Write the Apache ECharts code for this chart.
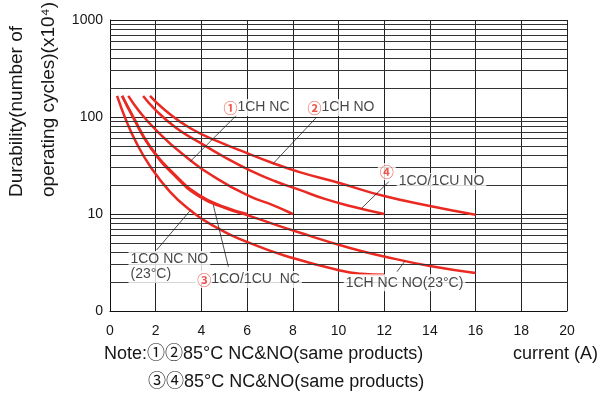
<!DOCTYPE html>
<html>
<head>
<meta charset="utf-8">
<script src="https://cdn.jsdelivr.net/npm/echarts@6/dist/echarts.min.js"></script>
<style>
html, body { margin: 0; padding: 0; background: #fff; }
#main { width: 601px; height: 396px; }
</style>
</head>
<body>
<div id="main"></div>
<script>
var chart = echarts.init(document.getElementById('main'));

// durability curves, [current (A), cycles x10^4]
var curveA = [[0.53, 165], [1, 102], [1.75, 50], [2.9, 24.6], [3.9, 15.7], [5, 11.8], [6, 10]];
var curveB = [[0.8, 165], [1.3, 113], [2.05, 72], [3.2, 41], [4.7, 23], [6.1, 15.3], [7.1, 12.4], [8, 10]];
var curveC = [[1.45, 165], [2, 118], [2.9, 77], [3.9, 55], [5, 38.7], [6.1, 28.4], [7.2, 21.9], [8.3, 17.7], [9.4, 14.3], [10.5, 12.1], [12, 10]];
var curveD = [[1.75, 165], [2.4, 118], [3.5, 77], [4.8, 55], [6, 42.5], [7, 34.4], [8.3, 27], [10, 21], [12, 15.3], [14, 12.1], [16, 9.8]];
var curveE = [[0.31, 165], [0.7, 93], [1.14, 55], [1.75, 31.3], [2.63, 16.9], [3.5, 11], [4.38, 7.9], [6.13, 5], [8, 3.52], [10.07, 2.62], [11, 2.42], [12, 2.36]];
var curveF = [[0.53, 165], [1, 100], [1.75, 49], [2.93, 23.5], [3.94, 15], [5.04, 11.5], [6.13, 9.5], [8.32, 6.4], [10.5, 4.46], [12, 3.65], [14, 2.91], [16, 2.47]];
var curves = [curveA, curveB, curveC, curveD, curveE, curveF];

var yLabels = { 1: '0', 10: '10', 100: '100', 1000: '1000' };
var minorGrid = [2, 3, 4, 5, 6, 7, 8, 9];

// annotation texts and the point they sit at
var notes = [
    { at: [4.9, 124], text: '{c|①}1CH NC' },
    { at: [8.58, 124], text: '{c|②}1CH NO' },
    { at: [11.74, 27], text: '{c|④}' },
    { at: [12.57, 21.4], text: '1CO/1CU NO' },
    { at: [0.83, 2.81], text: '1CO NC NO\n(23°C)' },
    { at: [3.75, 2.09], text: '{c|③}1CO/1CU  NC' },
    { at: [10.25, 1.93], text: '1CH NC NO(23°C)' }
];
// leader lines from label to curve
var leaders = [
    [[5.55, 105], [3.5, 34.6]],
    [[9.05, 100], [7.15, 33.3]],
    [[12.2, 21.5], [11.0, 11.4]],
    [[2.04, 4.25], [3.5, 10.8]],
    [[5.18, 2.86], [4.52, 12.4]],
    [[12.56, 2.54], [12.9, 3.25]]
];

var red = '#ea2a22';
var font = "'Liberation Sans', Arial, 'Noto Sans CJK SC', sans-serif";
var textColor = '#161616';

var gridLines = [];
[1, 10, 100].forEach(function (d) {
    minorGrid.forEach(function (m) { gridLines.push({ yAxis: m * d }); });
});

var series = [{
    type: 'line',
    data: [],
    silent: true,
    markLine: {
        silent: true,
        symbol: 'none',
        label: { show: false },
        lineStyle: { color: '#333', width: 1, type: 'solid' },
        data: gridLines
    }
}];

curves.forEach(function (c) {
    series.push({
        type: 'line',
        data: c,
        smooth: 0.5,
        showSymbol: false,
        z: 3,
        lineStyle: { color: red, width: 2.5 }
    });
});

series.push({
    type: 'line',
    data: [],
    markLine: {
        silent: true,
        symbol: 'none',
        label: { show: false },
        lineStyle: { color: '#222', width: 0.8, type: 'solid' },
        data: leaders.map(function (l) {
            return [{ coord: l[0] }, { coord: l[1] }];
        })
    },
    z: 4
});

series.push({
    type: 'scatter',
    symbolSize: 1,
    itemStyle: { color: 'rgba(0,0,0,0)' },
    z: 5,
    data: notes.map(function (n) {
        return { value: n.at, text: n.text };
    }),
    label: {
        show: true,
        position: [0, 0],
        align: 'left',
        verticalAlign: 'middle',
        fontFamily: font,
        fontSize: 14,
        lineHeight: 15,
        color: textColor,
        backgroundColor: '#fff',
        padding: [1, 2],
        formatter: function (p) { return p.data.text; },
        rich: {
            c: { color: red, fontSize: 14, fontWeight: 'bold', fontFamily: "'Noto Sans CJK SC', sans-serif" }
        }
    }
});

option = {
    backgroundColor: '#fff',
    animation: false,
    grid: { left: 110, right: 34, top: 20, bottom: 85 },
    xAxis: {
        type: 'value',
        min: 0,
        max: 20,
        interval: 2,
        axisLine: { show: true, lineStyle: { color: '#111', width: 1 } },
        axisTick: { show: false },
        axisLabel: { color: textColor, fontSize: 14, fontFamily: font, margin: 13 },
        splitLine: { show: true, lineStyle: { color: '#222', width: 1 } }
    },
    yAxis: {
        type: 'log',
        logBase: 10,
        min: 1,
        max: 1000,
        axisLine: { show: true, lineStyle: { color: '#111', width: 1 } },
        axisTick: { show: false },
        axisLabel: {
            color: textColor, fontSize: 14, fontFamily: font, margin: 7,
            formatter: function (v) { return yLabels[v] || ''; }
        },
        splitLine: { show: true, lineStyle: { color: '#222', width: 1 } }
    },
    graphic: [
        { type: 'text', x: 17, y: 197, rotation: Math.PI / 2,
          style: { text: 'Durability(number of', font: '19px ' + font, fill: textColor, textAlign: 'left', textVerticalAlign: 'middle' } },
        { type: 'text', x: 49, y: 197, rotation: Math.PI / 2,
          style: { text: 'operating cycles)(x10⁴)', font: '19px ' + font, fill: textColor, textAlign: 'left', textVerticalAlign: 'middle' } },
        { type: 'text', x: 104, y: 354,
          style: { text: 'Note:①②85°C NC&NO(same products)', font: '18px ' + font, fill: textColor, textAlign: 'left', textVerticalAlign: 'middle' } },
        { type: 'text', x: 148, y: 382,
          style: { text: '③④85°C NC&NO(same products)', font: '18px ' + font, fill: textColor, textAlign: 'left', textVerticalAlign: 'middle' } },
        { type: 'text', x: 598, y: 354,
          style: { text: 'current (A)', font: '18px ' + font, fill: textColor, textAlign: 'right', textVerticalAlign: 'middle' } }
    ],
    series: series
};

chart.setOption(option);
</script>
</body>
</html>
